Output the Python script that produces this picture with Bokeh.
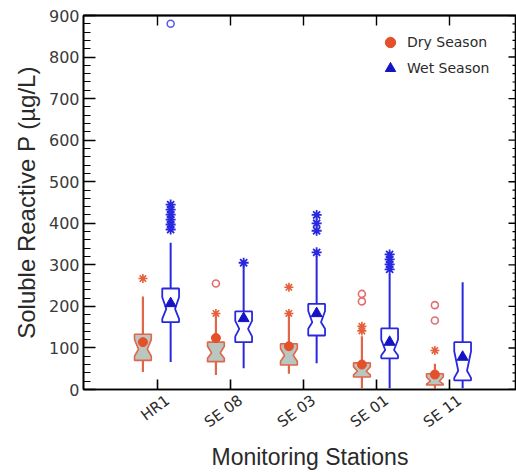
import math
from bokeh.plotting import figure
from bokeh.models import (LinearAxis, FixedTicker, SingleIntervalTicker, Range1d,
                          Legend, LegendItem, CustomJSTickFormatter, Title)
from bokeh.embed import file_html
from bokeh.resources import INLINE

# Soluble reactive phosphorus (µg/L) by monitoring station and season
stations = ["HR1", "SE 08", "SE 03", "SE 01", "SE 11"]

dry_q1 = [70, 67, 59, 30, 11]
dry_q3 = [133, 114, 110, 64, 38]
dry_median = [97, 88, 82, 44, 20]
dry_notch_lo = [80, 75, 68, 35, 13]
dry_notch_hi = [120, 104, 98, 55, 30]
dry_mean = [114, 124, 104, 60, 36]
dry_whisker_lo = [42, 35, 38, 3, 2]
dry_whisker_hi = [224, 176, 180, 128, 62]
dry_stars = {"HR1": [267], "SE 08": [183], "SE 03": [246, 183], "SE 01": [152, 141], "SE 11": [94]}
dry_circles = {"SE 08": [255], "SE 01": [230, 212], "SE 11": [203, 166]}

wet_q1 = [162, 114, 130, 75, 22]
wet_q3 = [243, 188, 206, 147, 114]
wet_median = [194, 146, 162, 95, 45]
wet_notch_lo = [170, 128, 146, 82, 28]
wet_notch_hi = [222, 165, 189, 120, 92]
wet_mean = [207, 171, 183, 114, 78]
wet_whisker_lo = [66, 51, 63, 3, 3]
wet_whisker_hi = [353, 300, 322, 278, 258]
wet_stars = {"HR1": [445, 433, 421, 409, 397, 385], "SE 08": [305],
             "SE 03": [420, 400, 382, 330], "SE 01": [325, 313, 301, 289]}
wet_circles = {"HR1": [880]}

DRY = "#e4502a"
DRY_BOX = "#e0664a"
DRY_FILL = "#b9c7c0"
WET = "#2828e0"
WET_MEAN = "#1414c4"
TEXT = "#2a2a2a"

pos = list(range(1, len(stations) + 1))
DRY_OFF, WET_OFF = -0.2, 0.18
HALF_W = 0.115
NOTCH_W = 0.06
LABEL_SHIFT = 0.14
X_END = 5.918
Y_MAX = 900

p = figure(width=516, height=472, output_backend="svg", toolbar_location=None,
           x_range=Range1d(-0.014, X_END), y_range=Range1d(0, Y_MAX),
           min_border_left=83, min_border_right=0, min_border_top=15,
           min_border_bottom=83)
p.background_fill_color = "white"
p.border_fill_color = "white"
p.outline_line_color = "black"
p.outline_line_width = 1.6
p.xgrid.visible = False
p.ygrid.visible = False


def notched(cx, q1, q3, med, nlo, nhi):
    xs = [cx - HALF_W, cx - HALF_W, cx - NOTCH_W, cx - HALF_W, cx - HALF_W,
          cx + HALF_W, cx + HALF_W, cx + NOTCH_W, cx + HALF_W, cx + HALF_W]
    ys = [q1, nlo, med, nhi, q3, q3, nhi, med, nlo, q1]
    return xs, ys


def draw_series(off, q1, q3, med, nlo, nhi, wlo, whi, line, fill, lw, wlw):
    xc = [x + off for x in pos]
    p.segment(x0=xc, y0=wlo, x1=xc, y1=q1, line_color=line, line_width=wlw)
    p.segment(x0=xc, y0=q3, x1=xc, y1=whi, line_color=line, line_width=wlw)
    xs, ys = [], []
    for i, c in enumerate(xc):
        bx, by = notched(c, q1[i], q3[i], med[i], nlo[i], nhi[i])
        xs.append(bx)
        ys.append(by)
    p.patches(xs=xs, ys=ys, fill_color=fill, line_color=line, line_width=lw)
    return xc


dry_x = draw_series(DRY_OFF, dry_q1, dry_q3, dry_median, dry_notch_lo, dry_notch_hi,
                    dry_whisker_lo, dry_whisker_hi, DRY_BOX, DRY_FILL, 1.6, 2.2)
wet_x = draw_series(WET_OFF, wet_q1, wet_q3, wet_median, wet_notch_lo, wet_notch_hi,
                    wet_whisker_lo, wet_whisker_hi, WET, "white", 1.8, 2.0)


def flatten(groups, xc):
    xs, ys = [], []
    for name, vals in groups.items():
        i = stations.index(name)
        xs += [xc[i]] * len(vals)
        ys += vals
    return xs, ys


sx, sy = flatten(dry_stars, dry_x)
p.scatter(sx, sy, marker="asterisk", size=9, line_color="#e4603a", line_width=1.6)
cx, cy = flatten(dry_circles, dry_x)
p.scatter(cx, cy, marker="circle", size=7, fill_color=None, line_color="#e07070", line_width=1.6)
sx, sy = flatten(wet_stars, wet_x)
p.scatter(sx, sy, marker="asterisk", size=10, line_color=WET, line_width=1.8)
cx, cy = flatten(wet_circles, wet_x)
p.scatter(cx, cy, marker="circle", size=7, fill_color=None, line_color="#5a5ae8", line_width=1.5)

dry_means = p.scatter(dry_x, dry_mean, marker="circle", size=9, fill_color=DRY, line_color=DRY)
wet_means = p.scatter(wet_x, wet_mean, marker="triangle", size=11,
                      fill_color=WET_MEAN, line_color=WET_MEAN)

legend = Legend(items=[LegendItem(label="Dry Season", renderers=[dry_means]),
                       LegendItem(label="Wet Season", renderers=[wet_means])],
                location=(292, 308), border_line_color=None, background_fill_alpha=0,
                padding=0, margin=0, spacing=0, label_height=20, glyph_height=26,
                glyph_width=30, label_standoff=2, label_text_font="DejaVu Sans",
                label_text_font_size="14px", label_text_color=TEXT)
p.add_layout(legend)

# bottom axis: slanted station names, set just right of each station's tick
label_pos = [x + LABEL_SHIFT for x in pos]
xa = p.xaxis[0]
xa.ticker = FixedTicker(ticks=label_pos, minor_ticks=[])
xa.major_label_overrides = {x: s for x, s in zip(label_pos, stations)}
xa.major_label_orientation = 0.64
xa.major_label_standoff = 3
xa.major_label_text_font = "DejaVu Sans"
xa.major_label_text_font_size = "15px"
xa.major_label_text_color = TEXT
xa.major_tick_line_color = None
xa.minor_tick_line_color = None
xa.axis_line_width = 1.6

# inward station ticks on the bottom edge
p.ray(x=pos, y=[0] * len(pos), length=10, length_units="screen",
      angle=math.pi / 2, line_color="black", line_width=1.6)

# x-axis title
p.add_layout(Title(text="Monitoring Stations", align="left", offset=128,
                   standoff=0, text_font="Liberation Sans", text_font_size="23px",
                   text_font_style="normal", text_color=TEXT), "below")

# left axis
ya = p.yaxis[0]
ya.ticker = SingleIntervalTicker(interval=100, num_minor_ticks=5)
ya.major_label_text_font = "DejaVu Sans"
ya.major_label_text_font_size = "16px"
ya.major_label_text_color = "#3a3a3a"
ya.major_tick_in = 12
ya.major_tick_out = 0
ya.minor_tick_in = 7
ya.minor_tick_out = 0
ya.axis_line_width = 1.6
ya.major_tick_line_width = 1.4
ya.minor_tick_line_width = 1.2
ya.major_label_standoff = 4
ya.axis_label = "Soluble Reactive P (µg/L)"
ya.axis_label_text_font = "Liberation Sans"
ya.axis_label_text_font_size = "24px"
ya.axis_label_text_font_style = "normal"
ya.axis_label_text_color = TEXT
ya.axis_label_standoff = 6

# top axis: tick marks only
top = LinearAxis(ticker=FixedTicker(ticks=pos, minor_ticks=[]),
                 formatter=CustomJSTickFormatter(code="return ''"),
                 major_tick_in=10, major_tick_out=0, major_label_standoff=0,
                 axis_label_standoff=0, axis_line_width=2, major_tick_line_width=1.4,
                 major_label_text_font_size="0px")
p.add_layout(top, "above")

# right edge: inward tick marks on the frame border
y_major = list(range(0, Y_MAX + 1, 100))
y_minor = [v for v in range(0, Y_MAX + 1, 20) if v % 100]
p.ray(x=[X_END] * len(y_major), y=y_major, length=8, length_units="screen",
      angle=math.pi, line_color="black", line_width=1.4)
p.ray(x=[X_END] * len(y_minor), y=y_minor, length=4, length_units="screen",
      angle=math.pi, line_color="black", line_width=1.2)

open("out.html", "w").write(file_html(p, INLINE))
